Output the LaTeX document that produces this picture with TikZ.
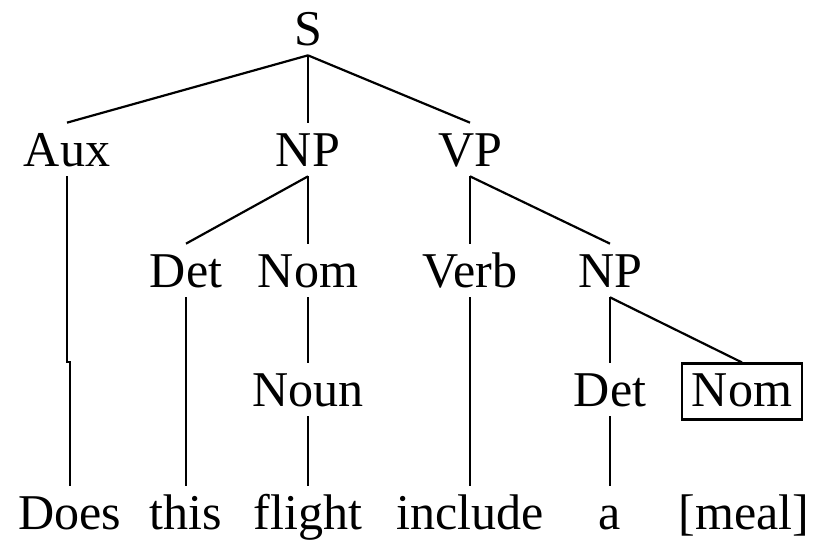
\documentclass[tikz,border=0pt]{standalone}
\usepackage{fontspec}
\setmainfont{Liberation Serif}
\tikzstyle{cat} = [anchor=base, inner sep=0.2cm, text height=0.66cm, text depth=0pt, font=\fontsize{28.5}{34}\selectfont]
\tikzstyle{tete} = [cat, draw, line width=1.2pt, inner sep=0.19cm, text depth=0.08cm]
\tikzstyle{trait} = [-, line width=1.25pt]

\begin{document}
\begin{tikzpicture}[x=0.02cm, y=-0.02cm]

	\useasboundingbox (0,0) rectangle (815,541);

	%% Categories
	\node[cat] (S) at (308,45) {S};

	\node[cat] (Aux) at (67,166) {Aux};
	\node[cat] (NP) at (308,166) {NP};
	\node[cat] (VP) at (470,166) {VP};

	\node[cat] (Det) at (186,287) {Det};
	\node[cat] (Nom) at (308,287) {Nom};
	\node[cat] (Verb) at (470,287) {Verb};
	\node[cat] (NPb) at (610,287) {NP};

	\node[cat] (Noun) at (308,406) {Noun};
	\node[cat] (Detb) at (610,406) {Det};
	\node[tete] (Nomb) at (742,406) {Nom};

	%% Mots
	\node[cat] (does) at (70,529) {Does};
	\node[cat] (this) at (186,529) {this};
	\node[cat] (flight) at (308,529) {flight};
	\node[cat] (include) at (470,529) {include};
	\node[cat] (a) at (610,529) {a};
	\node[cat] (meal) at (744,529) {[meal]};

	%% Branches
	\draw[trait] (S.south) -- (Aux.north);
	\draw[trait] (S.south) -- (NP.north);
	\draw[trait] (S.south) -- (VP.north);

	\coordinate (jog) at (70,362);
	\draw[trait] (Aux.south) |- (jog) -- (does.north);

	\draw[trait] (NP.south) -- (Det.north);
	\draw[trait] (NP.south) -- (Nom.north);
	\draw[trait] (VP.south) -- (Verb.north);
	\draw[trait] (VP.south) -- (NPb.north);

	\draw[trait] (Det.south) -- (this.north);
	\draw[trait] (Nom.south) -- (Noun.north);
	\draw[trait] (Noun.south) -- (flight.north);
	\draw[trait] (Verb.south) -- (include.north);
	\draw[trait] (NPb.south) -- (Detb.north);
	\draw[trait] (NPb.south) -- (Nomb.north);
	\draw[trait] (Detb.south) -- (a.north);

\end{tikzpicture}
\end{document}
